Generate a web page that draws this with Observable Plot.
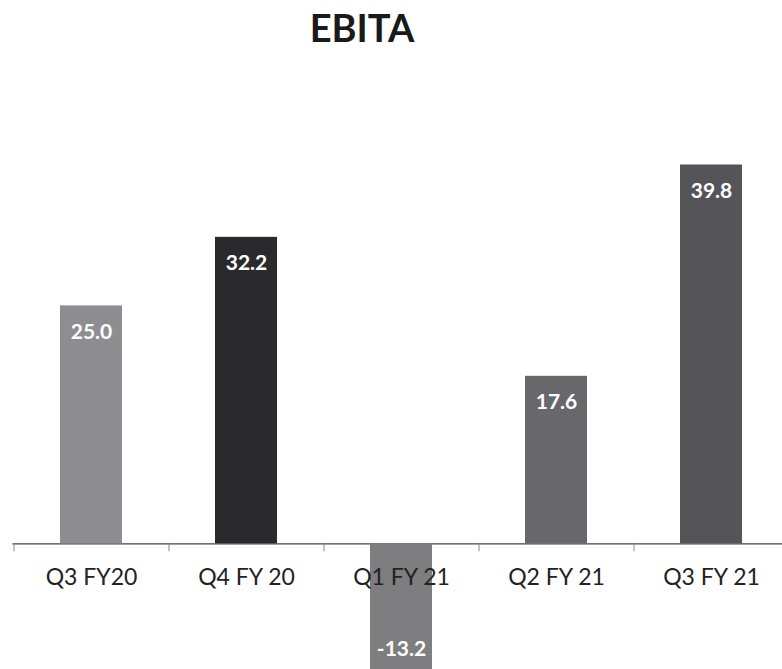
<!DOCTYPE html>
<html>
<head>
<meta charset="utf-8">
<script src="https://cdn.jsdelivr.net/npm/d3@7"></script>
<script src="https://cdn.jsdelivr.net/npm/@observablehq/plot@0.6"></script>
<style>
  body { margin: 0; background: #fff; overflow: hidden; }
  #title { height: 70px; width: 782px; font-family: Lato, "Open Sans", sans-serif; font-weight: bold; font-size: 38px; color: #1a1a1a; text-align: center; line-height: 54px; padding-right: 58px; box-sizing: border-box; }
</style>
</head>
<body>
<div id="title">EBITA</div>
<div id="chart"></div>
<script>
const categories = ["Q3 FY20", "Q4 FY 20", "Q1 FY 21", "Q2 FY 21", "Q3 FY 21"];
const values = [25.0, 32.2, -13.2, 17.6, 39.8];
const colors = ["#8e8e92", "#2a2a2c", "#7e7e80", "#68686c", "#555559"];

const data = categories.map((c, i) => ({category: c, value: values[i], color: colors[i]}));

const chart = Plot.plot({
  width: 782,
  height: 599,
  marginTop: 45,
  marginBottom: 0,
  marginLeft: 0,
  marginRight: 0,
  style: {fontFamily: "Lato, 'Open Sans', sans-serif", background: "#fff", overflow: "hidden"},
  x: {domain: categories, range: [12.5, 788.5], paddingInner: 0.6, paddingOuter: 0.3, axis: null},
  y: {domain: [d3.min(values), 45], axis: null},
  marks: [
    Plot.ruleY([0], {insetLeft: 12.5, stroke: "#444", strokeWidth: 1.3}),
    Plot.ruleX(categories, {x: d => d, dx: -77.5, y1: 0, y2: 0, insetBottom: -8, stroke: "#888", strokeWidth: 1}),
    Plot.barY(data, {x: "category", y: "value", fill: "color"}),
    Plot.text(data, {x: "category", y: 0, text: "category", dy: 34, fontSize: 23, fill: "#222", lineAnchor: "middle"}),
    Plot.text(data.filter(d => d.value >= 0), {x: "category", y: "value", text: d => d.value.toFixed(1), dy: 26, fontSize: 21, fontWeight: "bold", fill: "#fff", lineAnchor: "middle"}),
    Plot.text(data.filter(d => d.value < 0), {x: "category", y: "value", text: d => d.value.toFixed(1), dy: -20, fontSize: 21, fontWeight: "bold", fill: "#fff", lineAnchor: "middle"})
  ]
});
document.getElementById("chart").appendChild(chart);
</script>
</body>
</html>
